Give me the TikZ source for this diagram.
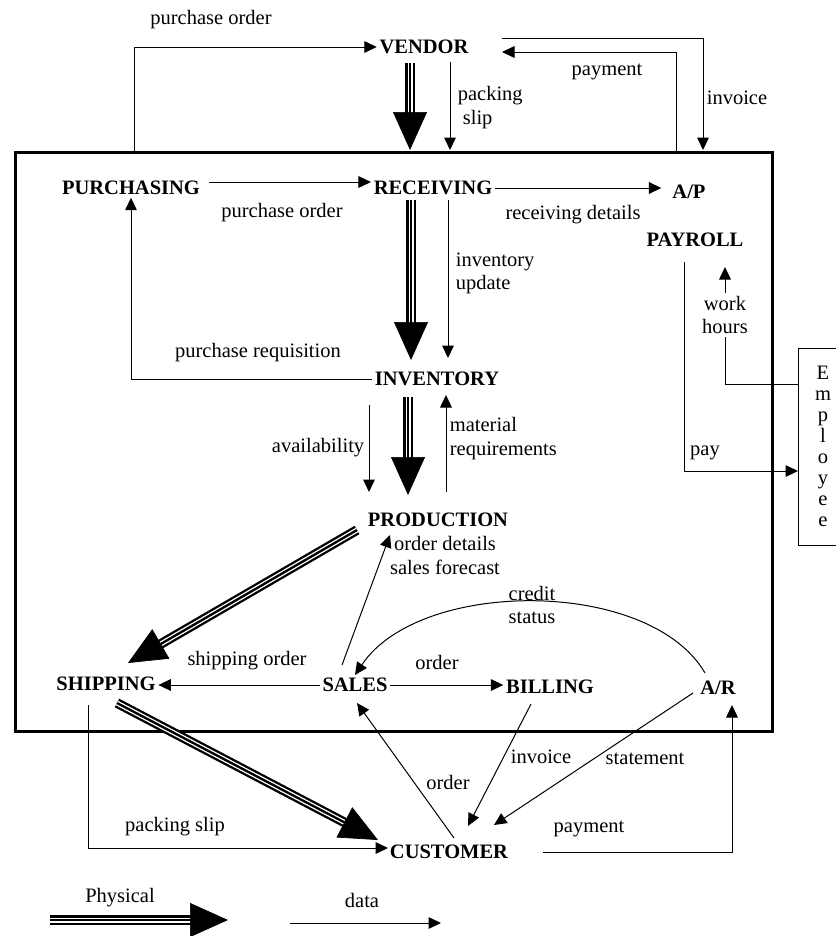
\documentclass[tikz,border=0pt]{standalone}
\usepackage{fontspec}
\setmainfont{Liberation Serif}
\usetikzlibrary{arrows.meta,calc}
\begin{document}
\begin{tikzpicture}[x=0.6pt,y=-0.6pt,
  every node/.style={font=\fontsize{12.3}{14.1}\selectfont, inner sep=1.5pt},
  unit/.style={font=\fontsize{12.3}{14.1}\selectfont\bfseries},
  data/.style={line width=0.6pt, -{Triangle[length=7.5pt,width=7pt]}},
  physA/.style={line width=5.8pt, shorten >=20pt},
  physB/.style={line width=3pt, draw=white, shorten >=20pt},
  physC/.style={line width=1.4pt, shorten >=20pt},
  physHead/.style={line width=0.4pt, -{Triangle[length=22.8pt,width=20.4pt]}},
  firmbox/.style={draw, line width=1.8pt, inner sep=0pt, outer sep=0pt, minimum width=454.2pt, minimum height=347.4pt},
  empbox/.style={draw, line width=0.6pt, inner sep=0pt, minimum width=30pt, minimum height=118.2pt, align=center, font=\fontsize{12.3}{12.6}\selectfont}
]
\newcommand{\physarrow}[2]{%
  \draw[physA] (#1) -- (#2);
  \draw[physB] (#1) -- (#2);
  \draw[physC] (#1) -- (#2);
  \draw[physHead] (#1) -- (#2);}
\useasboundingbox (0,0) rectangle (836,936);

% main box and employee box
\node[firmbox] (firm) at (393.5,441.5) {};
\node[empbox] (employee) at (823,446.5) {E\\m\\p\\l\\o\\y\\e\\e};

% units
\node[unit] (vendor) at (424,47) {VENDOR};
\node[unit] (purchasing) at (131,188) {PURCHASING};
\node[unit] (receiving) at (433,188) {RECEIVING};
\node[unit] (ap) at (689,192) {A/P};
\node[unit] (payroll) at (695,240) {PAYROLL};
\node[unit] (inventory) at (437,379) {INVENTORY};
\node[unit] (production) at (438,520) {PRODUCTION};
\node[unit] (shipping) at (106,684) {SHIPPING};
\node[unit] (sales) at (355,685) {SALES};
\node[unit] (billing) at (550,687) {BILLING};
\node[unit] (ar) at (718,688) {A/R};
\node[unit] (customer) at (449,852) {CUSTOMER};

% coordinates
\coordinate (poA) at (134,152);
\coordinate (psA) at (450,62);   \coordinate (psB) at (450,150);
\coordinate (pmA) at (676,152);  \coordinate (pmB) at (502,52);
\coordinate (ivA) at (502,38);   \coordinate (ivB) at (703,150);
\coordinate (vphA) at (410,63);  \coordinate (vphB) at (410,150);
\coordinate (rphA) at (411,200); \coordinate (rphB) at (411,360);
\coordinate (iuA) at (448,200);  \coordinate (iuB) at (448,358);
\coordinate (iphA) at (408,397); \coordinate (iphB) at (408,495);
\coordinate (avA) at (369,405);  \coordinate (avB) at (369,492);
\coordinate (mrA) at (446,492);  \coordinate (mrB) at (446,395);
\coordinate (spA) at (342,665);  \coordinate (spB) at (390,535);
\coordinate (ppA) at (357,530);  \coordinate (ppB) at (128,663);
\coordinate (csA) at (705,673);  \coordinate (csB) at (355,675);
\coordinate (pkA) at (88,705);   \coordinate (pkB) at (388,848);
\coordinate (scA) at (117,703);  \coordinate (scB) at (378,840);
\coordinate (ocA) at (454,838);  \coordinate (ocB) at (357,703);
\coordinate (bcA) at (531,704);  \coordinate (bcB) at (468,826);
\coordinate (acA) at (693,693);  \coordinate (acB) at (494,825);
\coordinate (cpA) at (543,852);  \coordinate (cpB) at (732,705);
\coordinate (paA) at (684,262);  \coordinate (paB) at (798,471);
\coordinate (whA) at (798,384);  \coordinate (whB) at (725,267);
\coordinate (lpA) at (50,920);   \coordinate (lpB) at (228,920);
\coordinate (ldA) at (290,923);  \coordinate (ldB) at (441,923);

% data flows outside top
\draw[data] (poA) |- (vendor.west);
\draw[data] (psA) -- (psB);
\draw[data] (pmA) |- (pmB);
\draw[data] (ivA) -| (ivB);
\physarrow{vphA}{vphB}

% inside
\draw[data, shorten <=4pt] ([yshift=3.6pt]purchasing.east) -- ([yshift=3.6pt]receiving.west);
\draw[data, shorten >=5pt] (receiving.east) -- (receiving.east -| ap.west);
\physarrow{rphA}{rphB}
\draw[data] (iuA) -- (iuB);
\draw[data] (inventory.west) -| (purchasing.south);
\physarrow{iphA}{iphB}
\draw[data] (avA) -- (avB);
\draw[data] (mrA) -- (mrB);
\draw[data] (spA) -- (spB);
\physarrow{ppA}{ppB}
\draw[data] (csA) .. controls (650,578) and (420,578) .. (csB);
\draw[data] (sales.west) -- (sales.west -| shipping.east);
\draw[data] (sales.east) -- (sales.east -| billing.west);

% bottom
\draw[data] (pkA) |- (pkB);
\physarrow{scA}{scB}
\draw[data] (ocA) -- (ocB);
\draw[data] (bcA) -- (bcB);
\draw[data] (acA) -- (acB);
\draw[data] (cpA) -| (cpB);

% payroll / employee
\draw[data] (paA) |- (paB);
\draw[data] (whA) -| (whB);
\node[fill=white, align=center, inner sep=2pt] (whl) at (725,315) {work\\hours};

% labels
\node (l1) at (211,20) {purchase order};
\node[anchor=west, align=left] (l2) at (455,107.5) {packing\\\hspace{3pt}slip};
\node (l3) at (607,72) {payment};
\node (l4) at (737,98) {invoice};
\node (l5) at (282,213) {purchase order};
\node (l6) at (573,215) {receiving details};
\node[anchor=west, align=left] (l7) at (453,273.5) {inventory\\update};
\node (l8) at (258,353) {purchase requisition};
\node[anchor=east] (l9) at (367,448) {availability};
\node[anchor=west, align=left] (l10) at (447,438.5) {material\\requirements};
\node[align=center] (l11) at (445,555.5) {order details\\sales forecast};
\node[align=center] (l12) at (532,605) {credit\\status};
\node (l13) at (247,661) {shipping order};
\node (l14) at (437,662) {order};
\node (l15) at (175,827) {packing slip};
\node (l16) at (448,782) {order};
\node (l17) at (541,757) {invoice};
\node (l18) at (645,759) {statement};
\node (l19) at (589,829) {payment};
\node (l20) at (705,453) {pay};

% legend
\node (lg1) at (120,898) {Physical};
\physarrow{lpA}{lpB}
\node (lg2) at (362,900) {data};
\draw[data] (ldA) -- (ldB);
\end{tikzpicture}
\end{document}
